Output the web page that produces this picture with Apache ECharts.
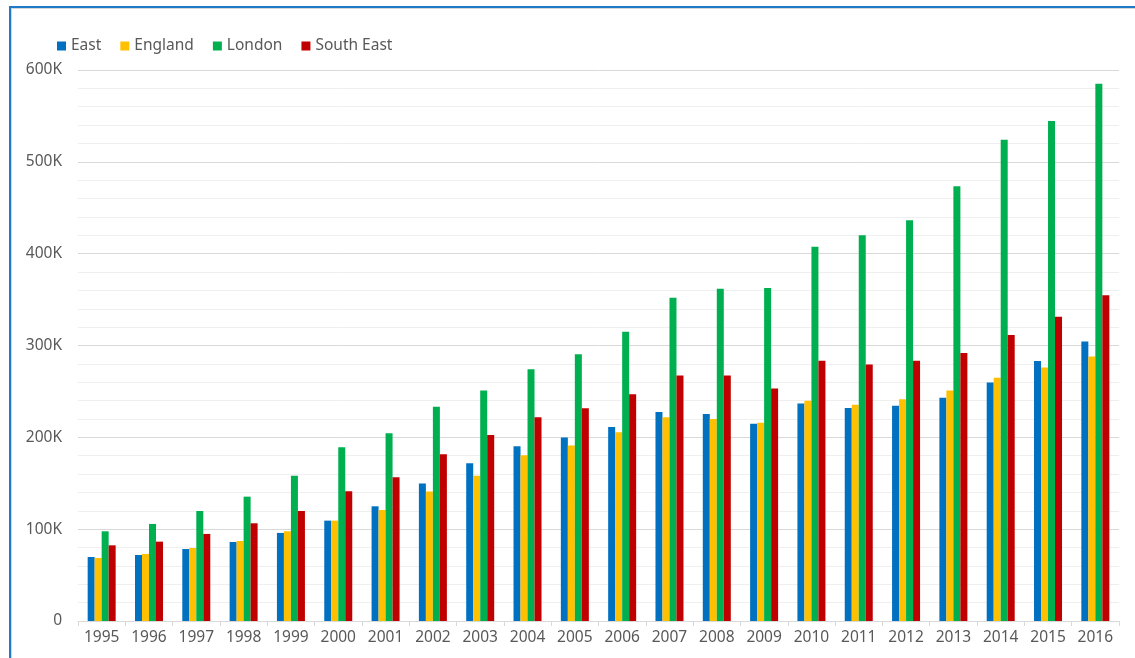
<!DOCTYPE html>
<html>
<head>
<meta charset="utf-8">
<script src="https://cdn.jsdelivr.net/npm/echarts@6/dist/echarts.min.js"></script>
<style>
html,body{margin:0;padding:0;background:#fff;}
#chart{width:1135px;height:658px;}
</style>
</head>
<body>
<div id="chart"></div>
<script>
const years = ['1995','1996','1997','1998','1999','2000','2001','2002','2003','2004','2005','2006','2007','2008','2009','2010','2011','2012','2013','2014','2015','2016'];
const east    = [69700, 71900, 78400, 86000, 95900, 109300, 124900, 149800, 171800, 190300, 199700, 211300, 227700, 225500, 214900, 236900, 231900, 234400, 243100, 259800, 283100, 304400];
const england = [68600, 73000, 79500, 87100, 97700, 109300, 120900, 140900, 158300, 180500, 191000, 205500, 221900, 220000, 216000, 239800, 235600, 241500, 251100, 264800, 276000, 288100];
const london  = [97700, 105700, 119800, 135400, 158300, 189200, 204400, 233400, 250900, 274200, 290500, 315100, 351900, 361700, 362700, 407500, 420000, 436300, 473300, 524100, 544600, 584900];
const southEast = [82400, 86400, 94800, 106400, 119800, 141300, 156500, 181600, 202600, 221900, 231700, 246900, 267200, 267200, 253200, 283500, 279400, 283500, 291800, 311400, 331400, 354700];
const seriesNames = ['East','England','London','South East'];
const colors = ['#0070C0','#FFC000','#00B050','#C00000'];
const yTicks = {0:'0',100000:'100K',200000:'200K',300000:'300K',400000:'400K',500000:'500K',600000:'600K'};

const chart = echarts.init(document.getElementById('chart'), null, {renderer:'canvas'});
const font = '"Noto Sans", "Open Sans", sans-serif';
const mk = (name, data, i) => ({
  name, type:'bar', data, barWidth:7, barGap:'0%',
  itemStyle:{color:colors[i]}
});
chart.setOption({
  animation:false,
  textStyle:{fontFamily:font},
  color:colors,
  legend:{
    left:52, top:33, itemWidth:9, itemHeight:9, itemGap:19, icon:'rect',
    textStyle:{color:'#595959', fontSize:15.5, fontFamily:font},
    data:seriesNames
  },
  grid:{left:78, right:16, top:70, bottom:37, containLabel:false},
  xAxis:{
    type:'category', data:years,
    axisLine:{lineStyle:{color:'#d9d9d9', width:1}},
    axisTick:{show:true, length:5, lineStyle:{color:'#d9d9d9'}},
    axisLabel:{color:'#595959', fontSize:15.5, margin:9, fontFamily:font}
  },
  yAxis:{
    type:'value', min:0, max:600000, interval:100000,
    axisLine:{show:false}, axisTick:{show:false},
    axisLabel:{color:'#595959', fontSize:15.5, margin:16, fontFamily:font,
      formatter:v=>yTicks[v]!==undefined?yTicks[v]:''},
    splitLine:{lineStyle:{color:'#d9d9d9', width:1}},
    minorTick:{show:false, splitNumber:5},
    minorSplitLine:{show:true, lineStyle:{color:'#efefef', width:1}}
  },
  graphic:[
    {type:'rect', shape:{x:9, y:6, width:1130, height:2}, style:{fill:'#1f7bc8'}},
    {type:'rect', shape:{x:9, y:8, width:1130, height:1}, style:{fill:'#d6d6d6'}},
    {type:'rect', shape:{x:9, y:6, width:2, height:660}, style:{fill:'#1f7bc8'}},
    {type:'rect', shape:{x:11, y:8, width:1, height:660}, style:{fill:'#d6d6d6'}}
  ],
  series:[mk('East',east,0), mk('England',england,1), mk('London',london,2), mk('South East',southEast,3)]
});
</script>
</body>
</html>
